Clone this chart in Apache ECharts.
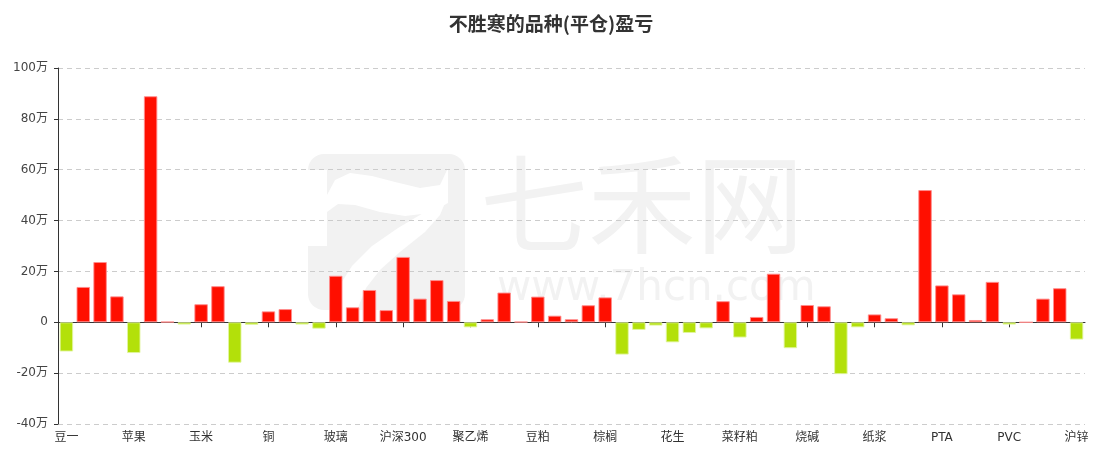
<!DOCTYPE html>
<html>
<head>
<meta charset="utf-8">
<script src="https://cdn.jsdelivr.net/npm/echarts@6/dist/echarts.min.js"></script>
<style>
html,body{margin:0;padding:0;background:#fff;}
#chart{width:1102px;height:457px;}
</style>
</head>
<body>
<div id="chart"></div>
<script>
var titleText = '不胜寒的品种(平仓)盈亏';
var labelNames = ['豆一','苹果','玉米','铜','玻璃','沪深300','聚乙烯','豆粕','棕榈','花生','菜籽粕','烧碱','纸浆','PTA','PVC','沪锌'];
// 61 categories; only every 4th has a readable name
var categories = [
 '豆一','c1','c2','c3','苹果','c5','c6','c7','玉米','c9','c10','c11','铜','c13','c14','c15',
 '玻璃','c17','c18','c19','沪深300','c21','c22','c23','聚乙烯','c25','c26','c27','豆粕','c29','c30','c31',
 '棕榈','c33','c34','c35','花生','c37','c38','c39','菜籽粕','c41','c42','c43','烧碱','c45','c46','c47',
 '纸浆','c49','c50','c51','PTA','c53','c54','c55','PVC','c57','c58','c59','沪锌'
];
// profit / loss in 万
var values = [
 -11.5, 13.9, 23.7, 10.2, -12.1, 88.9, 0.2, -0.9, 7.1, 14.2,
 -15.9, -1.0, 4.3, 5.2, -0.9, -2.5, 18.3, 5.9, 12.7, 4.8,
 25.7, 9.3, 16.6, 8.4, -2.0, 1.2, 11.7, 0.2, 10.1, 2.6,
 1.2, 6.7, 9.8, -12.7, -3.0, -1.3, -7.9, -4.2, -2.4, 8.3,
 -6.0, 2.1, 19.1, -10.2, 6.8, 6.3, -20.4, -2.0, 3.1, 1.6,
 -1.2, 52.0, 14.5, 11.0, 0.9, 15.9, -0.9, 0, 9.3, 13.4,
 -6.8
];
var yTicks = {min: -40, max: 100, interval: 20};

var chart = echarts.init(document.getElementById('chart'), null, {renderer: 'canvas'});
var fontFam = '"DejaVu Sans", "Noto Sans CJK SC", sans-serif';
var wmColor = '#f2f2f2';

var barData = values.map(function (v) {
  return {
    value: v,
    itemStyle: v >= 0
      ? {color: '#ff0f00', borderColor: 'rgba(255,140,140,0.9)', borderWidth: 1}
      : {color: '#b3e00a', borderColor: 'rgba(225,245,160,0.9)', borderWidth: 1}
  };
});

chart.setOption({
  backgroundColor: '#ffffff',
  animation: false,
  title: {
    text: titleText,
    left: 'center',
    top: 9,
    textStyle: {fontSize: 19, fontWeight: 'bold', color: '#333', fontFamily: '"Noto Sans CJK SC", sans-serif'}
  },
  graphic: [
    {type: 'rect', z: -10, silent: true, shape: {x: 308, y: 154, width: 157, height: 156, r: 16}, style: {fill: wmColor}},
    {type: 'polygon', z: -9, silent: true,
      shape: {points: [[308,170],[327,170],[327,195],[335,180],[350,173],[372,176],[395,182],[420,188],[440,185],[448,168],[448,203],[430,213],[405,216],[380,212],[355,205],[338,204],[327,212],[327,246],[308,246]]},
      style: {fill: '#ffffff'}},
    {type: 'polygon', z: -9, silent: true,
      shape: {points: [[447,198],[440,215],[425,232],[400,252],[380,270],[366,288],[357,310],[330,310],[338,288],[352,266],[372,246],[398,228],[425,212]]},
      style: {fill: '#ffffff'}},
    {type: 'text', z: -8, silent: true, left: 480, top: 150,
      style: {text: '七禾网', fill: wmColor, font: 'normal 108px "Noto Sans CJK SC", sans-serif'}},
    {type: 'text', z: -8, silent: true, left: 497, top: 268,
      style: {text: 'www.7hcn.com', fill: wmColor, font: 'normal 42px "DejaVu Sans", sans-serif'}}
  ],
  grid: {left: 58, right: 17, top: 68, bottom: 33, containLabel: false},
  xAxis: [
    {
      type: 'category',
      data: categories,
      position: 'bottom',
      boundaryGap: true,
      axisLine: {show: false, onZero: false},
      axisTick: {show: false},
      axisLabel: {
        interval: 3, color: '#333', fontSize: 12, fontFamily: fontFam, margin: 8,
        formatter: function (v) { return labelNames.indexOf(v) >= 0 ? v : ''; }
      },
      splitLine: {show: false}
    },
    {
      type: 'category',
      data: categories,
      position: 'bottom',
      boundaryGap: true,
      axisLine: {show: true, onZero: true, lineStyle: {color: '#333', width: 1}},
      axisTick: {show: true, interval: 3, alignWithLabel: true, length: 5, lineStyle: {color: '#333'}},
      axisLabel: {show: false},
      splitLine: {show: false}
    }
  ],
  yAxis: {
    type: 'value',
    min: yTicks.min, max: yTicks.max, interval: yTicks.interval,
    axisLine: {show: true, lineStyle: {color: '#333'}},
    axisTick: {show: true, length: 4, lineStyle: {color: '#333'}},
    axisLabel: {
      color: '#444', fontSize: 12, fontFamily: fontFam, margin: 10,
      formatter: function (v) { return v === 0 ? '0' : v + '万'; }
    },
    splitLine: {show: true, lineStyle: {color: '#cccccc', type: [5, 4]}}
  },
  series: [{
    type: 'bar',
    xAxisIndex: 0,
    data: barData,
    barCategoryGap: '20%'
  }]
});
</script>
</body>
</html>
